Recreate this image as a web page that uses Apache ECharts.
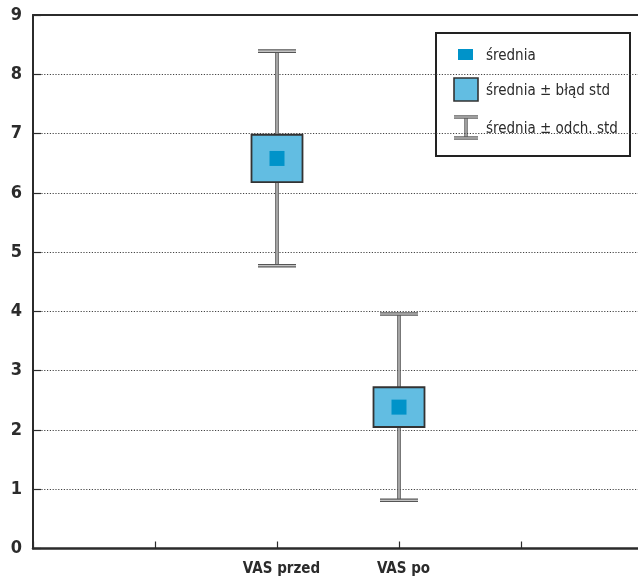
<!DOCTYPE html>
<html>
<head>
<meta charset="utf-8">
<script src="https://cdn.jsdelivr.net/npm/echarts@6/dist/echarts.min.js"></script>
<style>
  html, body { margin: 0; padding: 0; background: #fff; }
  #chart { width: 638px; height: 582px; }
</style>
</head>
<body>
<div id="chart"></div>
<script>
// VAS pain scores before and after: mean, standard error and standard deviation
const categories = ['VAS przed', 'VAS po'];
const means = [6.58, 2.385];
const stdErrors = [0.40, 0.335];
const stdDevs = [1.81, 1.57];
const yTickValues = [0, 1, 2, 3, 4, 5, 6, 7, 8, 9];
const legendLabels = ['średnia', 'średnia ± błąd std', 'średnia ± odch. std'];

const FONT = "'Liberation Sans Narrow', 'DejaVu Sans Condensed', 'Noto Sans', sans-serif";
const INK = '#2b2b2b';
const BOX_FILL = '#62bde2';
const MEAN_FILL = '#0093c9';

// x slots: two empty slots on each side of the measured groups
const xSlots = ['', ''].concat(categories, ['', '']);

const seriesData = categories.map((c, i) => [c, means[i], stdErrors[i], stdDevs[i]]);

function doubleLine(x1, y1, x2, y2) {
  return [
    { type: 'line', shape: { x1, y1, x2, y2 }, style: { stroke: '#555', lineWidth: 3.6 } },
    { type: 'line', shape: { x1, y1, x2, y2 }, style: { stroke: '#e8e8e8', lineWidth: 1.1 } }
  ];
}

function renderItem(params, api) {
  const x = api.value(0);
  const mean = api.value(1);
  const se = api.value(2);
  const sd = api.value(3);
  const c = api.coord([x, mean]);
  const hi = api.coord([x, mean + sd]);
  const lo = api.coord([x, mean - sd]);
  const bt = api.coord([x, mean + se]);
  const bb = api.coord([x, mean - se]);
  const cx = c[0];
  const capHalf = 19, boxHalf = 25.5, dot = 15;
  const children = []
    .concat(doubleLine(cx, hi[1], cx, lo[1]))
    .concat(doubleLine(cx - capHalf, hi[1], cx + capHalf, hi[1]))
    .concat(doubleLine(cx - capHalf, lo[1], cx + capHalf, lo[1]));
  children.push({
    type: 'rect',
    shape: { x: cx - boxHalf, y: bt[1], width: boxHalf * 2, height: bb[1] - bt[1] },
    style: { fill: BOX_FILL, stroke: '#333', lineWidth: 1.8 }
  });
  children.push({
    type: 'rect',
    shape: { x: cx - dot / 2, y: c[1] - dot / 2, width: dot, height: dot },
    style: { fill: MEAN_FILL }
  });
  return { type: 'group', children };
}

// legend drawn as a framed box in the upper right
const legendX = 435, legendY = 32;
const legendGraphic = {
  type: 'group',
  left: legendX, top: legendY,
  children: [
    { type: 'rect', shape: { x: 0, y: 0, width: 194, height: 123 },
      style: { fill: '#fff', stroke: '#222', lineWidth: 2 } },
    { type: 'rect', shape: { x: 22, y: 16, width: 15, height: 11 }, style: { fill: MEAN_FILL } },
    { type: 'rect', shape: { x: 18, y: 45, width: 24, height: 23 },
      style: { fill: BOX_FILL, stroke: '#333', lineWidth: 1.6 } },
    { type: 'line', shape: { x1: 30, y1: 84, x2: 30, y2: 105 }, style: { stroke: '#555', lineWidth: 3.4 } },
    { type: 'line', shape: { x1: 30, y1: 84, x2: 30, y2: 105 }, style: { stroke: '#e8e8e8', lineWidth: 1 } },
    { type: 'line', shape: { x1: 18, y1: 84, x2: 42, y2: 84 }, style: { stroke: '#555', lineWidth: 3.4 } },
    { type: 'line', shape: { x1: 18, y1: 84, x2: 42, y2: 84 }, style: { stroke: '#e8e8e8', lineWidth: 1 } },
    { type: 'line', shape: { x1: 18, y1: 105, x2: 42, y2: 105 }, style: { stroke: '#555', lineWidth: 3.4 } },
    { type: 'line', shape: { x1: 18, y1: 105, x2: 42, y2: 105 }, style: { stroke: '#e8e8e8', lineWidth: 1 } }
  ].concat(legendLabels.map((t, i) => ({
    type: 'text',
    style: {
      text: t, x: 50, y: [23, 58, 96][i],
      fill: INK, font: '15px ' + FONT, verticalAlign: 'middle', textAlign: 'left'
    }
  })))
};

const chart = echarts.init(document.getElementById('chart'), null, { renderer: 'canvas' });
chart.setOption({
  animation: false,
  backgroundColor: '#fff',
  // plot area runs past the right edge of the canvas
  grid: {
    left: 33, top: 15, width: 610, height: 533.5,
    containLabel: false, outerBoundsMode: 'none'
  },
  xAxis: [
    {
      type: 'category',
      data: xSlots,
      boundaryGap: false,
      position: 'bottom',
      axisLine: { show: true, lineStyle: { color: INK, width: 2.5 } },
      axisTick: { show: true, inside: true, length: 7, interval: 0, lineStyle: { color: INK, width: 1.2 } },
      axisLabel: {
        show: true, interval: 0, margin: 13,
        color: INK, fontFamily: FONT, fontWeight: 'bold', fontSize: 15,
        padding: [0, 0, 0, 9]
      },
      splitLine: { show: false }
    },
    {
      type: 'category',
      data: xSlots,
      boundaryGap: false,
      position: 'top',
      axisLine: { show: true, lineStyle: { color: INK, width: 2 } },
      axisTick: { show: false },
      axisLabel: { show: false },
      splitLine: { show: false }
    }
  ],
  yAxis: {
    type: 'value',
    min: yTickValues[0],
    max: yTickValues[yTickValues.length - 1],
    interval: 1,
    axisLine: { show: true, lineStyle: { color: INK, width: 2 } },
    axisTick: { show: true, inside: true, length: 8, lineStyle: { color: INK, width: 1.2 } },
    axisLabel: {
      margin: 11, color: INK, fontFamily: FONT, fontWeight: 'bold', fontSize: 18
    },
    splitLine: { show: true, lineStyle: { color: '#444', width: 1, type: [1.2, 1.6] } }
  },
  graphic: [legendGraphic],
  series: [{
    type: 'custom',
    xAxisIndex: 0,
    renderItem,
    encode: { x: 0, y: 1 },
    data: seriesData,
    z: 10
  }]
});
</script>
</body>
</html>
